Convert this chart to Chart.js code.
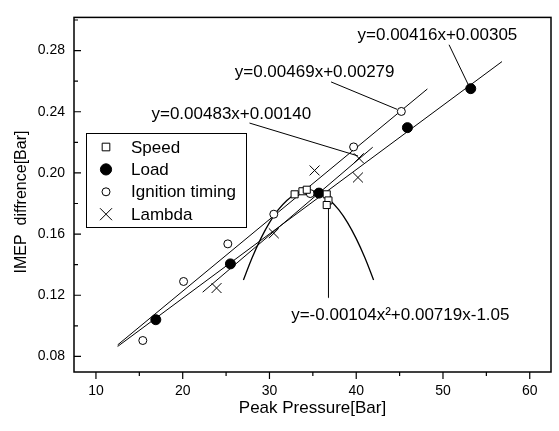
<!DOCTYPE html>
<html>
<head>
<meta charset="utf-8">
<script src="https://cdn.jsdelivr.net/npm/chart.js@4.4.0/dist/chart.umd.min.js"></script>
<style>
  html, body { margin: 0; padding: 0; background: #fff; }
  #wrap { width: 559px; height: 431px; }
</style>
</head>
<body>
<div id="wrap"><canvas id="ChartPeak"></canvas></div>
<script>
// measured points
const speedX = [32.9, 33.8, 34.3, 36.6, 36.8, 36.6];
const speedY = [0.186, 0.188, 0.189, 0.186, 0.182, 0.179];
const loadX = [16.9, 25.5, 35.7, 45.9, 53.2];
const loadY = [0.104, 0.1405, 0.1868, 0.2296, 0.2551];
const ignX = [15.4, 20.1, 25.2, 30.5, 34.7, 39.7, 45.2];
const ignY = [0.0904, 0.129, 0.1536, 0.173, 0.1865, 0.217, 0.2402];
const lambdaX = [23.9, 30.5, 35.2, 40.2, 40.3];
const lambdaY = [0.1247, 0.1605, 0.2016, 0.197, 0.2096];

// fit lines (end points)
const loadFitX = [12.5, 56.8];
const loadFitY = [0.0865, 0.2728];
const ignFitX = [12.5, 48.2];
const ignFitY = [0.0875, 0.2549];
const lambdaFitX = [22.3, 41.9];
const lambdaFitY = [0.122, 0.2168];
// speed quadratic fit
const curveX = [27, 28, 29, 30, 31, 32, 33, 34, 35, 36, 37, 38, 39, 40, 41, 42];
const curveY = [0.130, 0.1445, 0.157, 0.1675, 0.1758, 0.182, 0.1862, 0.1882, 0.1882, 0.1862, 0.182, 0.1758, 0.1675, 0.157, 0.1445, 0.130];

// equation labels and their leader lines
const eqText = ['y=0.00416x+0.00305', 'y=0.00469x+0.00279', 'y=0.00483x+0.00140', 'y=-0.00104x\u00B2+0.00719x-1.05'];
const eqAt = [[40.15, 0.2897], [26.0, 0.2658], [16.4, 0.2383], [32.5, 0.1068]];
const leaderX = [[50.7, 53.1], [37.1, 44.7], [27.7, 40.2], [36.85, 36.8]];
const leaderY = [[0.2838, 0.2555], [0.2595, 0.2416], [0.2326, 0.2111], [0.1184, 0.179]];

const xTicks = [10, 20, 30, 40, 50, 60];
const xMinor = [15, 25, 35, 45, 55];
const yTicks = [0.08, 0.12, 0.16, 0.20, 0.24, 0.28];
const yMinor = [0.10, 0.14, 0.18, 0.22, 0.26, 0.30];

const FONT = '"Liberation Sans", Arial, sans-serif';
const pts = (xs, ys) => xs.map((x, i) => ({x: x, y: ys[i]}));

function fitLine(xs, ys, w) {
  return {
    data: pts(xs, ys), showLine: true, pointRadius: 0, borderColor: '#000',
    borderWidth: w || 1, fill: false
  };
}

const datasets = [
  { label: 'Speed', data: pts(speedX, speedY), pointStyle: 'rect', pointRadius: 5,
    backgroundColor: '#fff', borderColor: '#000', borderWidth: 1 },
  { label: 'Load', data: pts(loadX, loadY), pointStyle: 'circle', pointRadius: 5,
    backgroundColor: '#000', borderColor: '#000', borderWidth: 1 },
  { label: 'Ignition timing', data: pts(ignX, ignY), pointStyle: 'circle', pointRadius: 4,
    backgroundColor: '#fff', borderColor: '#000', borderWidth: 1 },
  { label: 'Lambda', data: pts(lambdaX, lambdaY), pointStyle: 'crossRot', pointRadius: 7,
    backgroundColor: '#000', borderColor: '#000', borderWidth: 1 },
  fitLine(loadFitX, loadFitY),
  fitLine(ignFitX, ignFitY),
  fitLine(lambdaFitX, lambdaFitY),
  Object.assign(fitLine(curveX, curveY, 1.3), {tension: 0.4})
];
leaderX.forEach((lx, i) => datasets.push(fitLine(lx, leaderY[i])));

// legend markers are drawn a little larger than in the plot
const legendRadius = [5.4, 5.6, 4, 8.5];

// box, tick marks, legend, y title and equation text
const decor = {
  id: 'decor',
  afterDraw(chart) {
    const ctx = chart.ctx;
    const a = chart.chartArea;
    const xs = chart.scales.x, ys = chart.scales.y;
    ctx.save();
    ctx.strokeStyle = '#000';
    ctx.lineWidth = 1.5;
    ctx.strokeRect(a.left, a.top, a.right - a.left, a.bottom - a.top);

    ctx.lineWidth = 1.2;
    ctx.beginPath();
    xTicks.concat(xMinor).forEach(v => {
      const p = xs.getPixelForValue(v);
      ctx.moveTo(p, a.bottom);
      ctx.lineTo(p, a.bottom + (xTicks.includes(v) ? 7 : 4));
    });
    yTicks.concat(yMinor).forEach(v => {
      const p = ys.getPixelForValue(v);
      if (p < a.top) return;
      ctx.moveTo(a.left, p);
      ctx.lineTo(a.left + (yTicks.includes(v) ? 7 : 4), p);
    });
    ctx.stroke();

    // legend
    ctx.fillStyle = '#fff';
    ctx.fillRect(86, 133, 160, 94);
    ctx.lineWidth = 1;
    ctx.strokeRect(86.5, 133.5, 160, 94);
    ctx.font = '17px ' + FONT;
    ctx.textBaseline = 'middle';
    ctx.textAlign = 'left';
    chart.data.datasets.slice(0, 4).forEach((ds, i) => {
      const y = 147 + i * 22.4;
      ctx.fillStyle = ds.backgroundColor;
      ctx.strokeStyle = ds.borderColor;
      ctx.lineWidth = ds.borderWidth;
      Chart.helpers.drawPoint(ctx, {pointStyle: ds.pointStyle, radius: legendRadius[i],
        borderWidth: ds.borderWidth, rotation: 0}, 106, y);
      ctx.fillStyle = '#000';
      ctx.fillText(ds.label, 131, y + 1);
    });

    // equations
    eqText.forEach((t, i) => {
      ctx.fillText(t, xs.getPixelForValue(eqAt[i][0]), ys.getPixelForValue(eqAt[i][1]));
    });

    // y axis title
    ctx.translate(22, 202);
    ctx.rotate(-Math.PI / 2);
    ctx.textAlign = 'center';
    ctx.font = '16px ' + FONT;
    ctx.fillText('IMEP  diffrence[Bar]', 0, 0);
    ctx.restore();
  }
};

const ctx = document.getElementById('ChartPeak').getContext('2d');
new Chart(ctx, {
  type: 'scatter',
  data: { datasets: datasets },
  options: {
    responsive: true,
    maintainAspectRatio: false,
    animation: false,
    layout: { padding: { left: 0, top: 5, right: 7, bottom: 0 } },
    plugins: { legend: { display: false }, tooltip: { enabled: false } },
    scales: {
      x: {
        type: 'linear', min: 7.47, max: 62.45,
        grid: { display: false, drawTicks: false }, border: { display: false },
        afterBuildTicks: s => { s.ticks = xTicks.map(v => ({value: v})); },
        afterFit: s => { s.height = 59; },
        ticks: { padding: 11, color: '#000', font: { family: FONT, size: 14 } },
        title: { display: true, text: 'Peak Pressure[Bar]', color: '#000',
          font: { family: FONT, size: 17 }, padding: { top: 0, bottom: 12 } }
      },
      y: {
        type: 'linear', min: 0.0698, max: 0.3017,
        grid: { display: false, drawTicks: false }, border: { display: false },
        afterBuildTicks: s => { s.ticks = yTicks.map(v => ({value: v})); },
        afterFit: s => { s.width = 74; },
        ticks: { padding: 9, color: '#000', font: { family: FONT, size: 14 },
          callback: v => v.toFixed(2) }
      }
    }
  },
  plugins: [decor]
});
</script>
</body>
</html>
